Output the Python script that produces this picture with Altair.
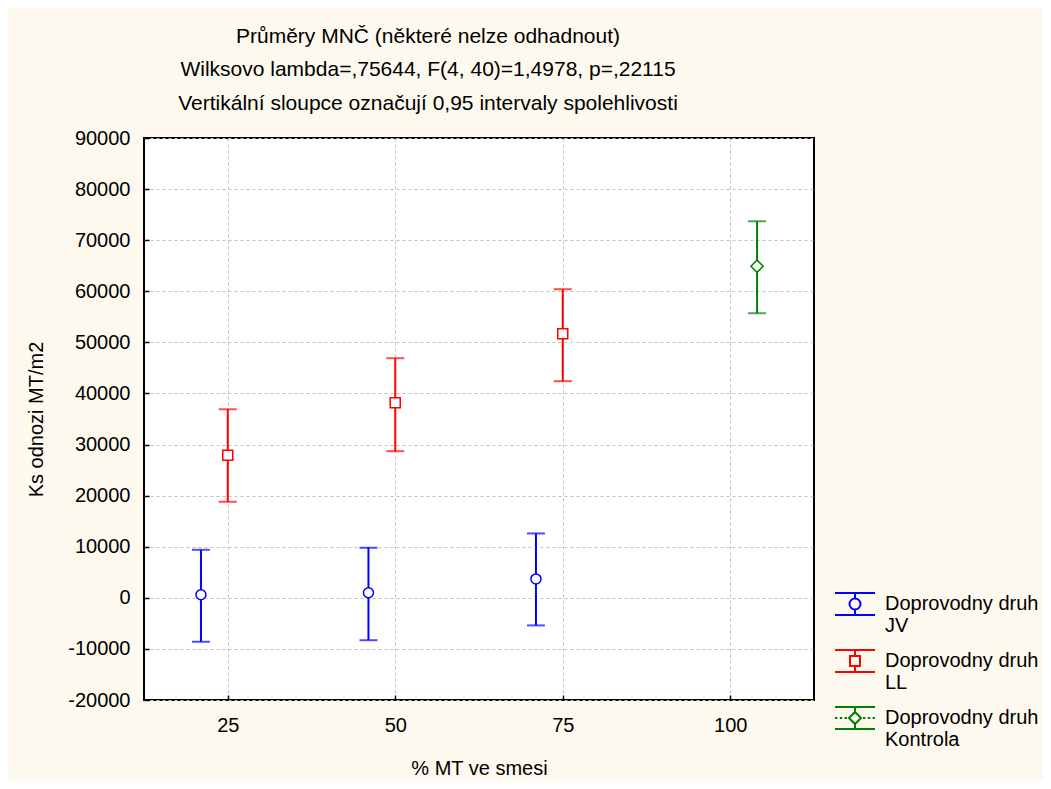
import altair as alt
import pandas as pd

# ---- data ----
series_names = ["Doprovodny druh JV", "Doprovodny druh LL", "Doprovodny druh Kontrola"]

jv_pct = [25, 50, 75]
jv_mean = [600, 1000, 3700]
jv_lo = [-8600, -8300, -5400]
jv_hi = [9400, 9800, 12600]

ll_pct = [25, 50, 75]
ll_mean = [27900, 38200, 51700]
ll_lo = [18800, 28700, 42400]
ll_hi = [36900, 46900, 60400]

k_pct = [100]
k_mean = [64900]
k_lo = [55700]
k_hi = [73700]

x_ticks = [25, 50, 75, 100]
y_ticks = list(range(-20000, 90001, 10000))
title_lines = [
    "Průměry MNČ (některé nelze odhadnout)",
    "Wilksovo lambda=,75644, F(4, 40)=1,4978, p=,22115",
    "Vertikální sloupce označují 0,95 intervaly spolehlivosti",
]
x_title = "% MT ve smesi"
y_title = "Ks odnozi MT/m2"

# ---- styles ----
colors = ["#0000ff", "#ff0000", "#008000"]
marker_shapes = ["circle", "square", "diamond"]
marker_sizes = [100, 100, 150]
FONT = "Liberation Sans"


def glyph(kind, c=0.0):
    cap = 0.55
    top, bot = c - cap, c + cap
    p = f"M-1,{top}H1M-1,{bot}H1"
    if kind == "circle":
        r = 0.275
        p += f"M0,{top}V{c - r}M0,{c + r}V{bot}"
        p += f"M{r},{c}A{r},{r} 0 1 1 {-r},{c}A{r},{r} 0 1 1 {r},{c}Z"
    elif kind == "square":
        r = 0.25
        p += f"M0,{top}V{c - r}M0,{c + r}V{bot}"
        p += f"M{-r},{c - r}H{r}V{c + r}H{-r}Z"
    else:
        r = 0.3
        p += f"M0,{top}V{c - r}M0,{c + r}V{bot}"
        p += f"M0,{c - r}L{r},{c}L0,{c + r}L{-r},{c}Z"
        for a, b in [(-1, -0.88), (-0.76, -0.64), (-0.52, -0.4), (0.4, 0.52), (0.64, 0.76), (0.88, 1)]:
            p += f"M{a},{c}H{b}"
    return p


legend_paths = [glyph(s) for s in marker_shapes]

rows = []
for name, pcts, means, los, his in [
    (series_names[0], jv_pct, jv_mean, jv_lo, jv_hi),
    (series_names[1], ll_pct, ll_mean, ll_lo, ll_hi),
    (series_names[2], k_pct, k_mean, k_lo, k_hi),
]:
    for p, m, lo, hi in zip(pcts, means, los, his):
        rows.append({"series": name, "pct": p, "mean": m, "lo": lo, "hi": hi})
df = pd.DataFrame(rows)

dodge_expr = (
    f"datum.pct + (datum.series == '{series_names[0]}' ? -4 : "
    f"(datum.series == '{series_names[2]}' ? 4 : 0))"
)
color_expr = (
    f"datum.series == '{series_names[0]}' ? '{colors[0]}' : "
    f"(datum.series == '{series_names[1]}' ? '{colors[1]}' : '{colors[2]}')"
)

base = alt.Chart(df).transform_calculate(xpos=dodge_expr, col=color_expr)

x_scale = alt.Scale(domain=[12.5, 112.5], nice=False, zero=False)
y_scale = alt.Scale(domain=[-20000, 90000], nice=False, zero=False)
color_scale = alt.Scale(domain=series_names, range=colors)

x_axis = alt.Axis(
    values=x_ticks, format="d", grid=True, gridColor="#c0c0c0", gridDash=[3, 3], gridWidth=1,
    domain=False, ticks=True, tickSize=5, tickColor="black", tickWidth=1.5, offset=-5,
    labelPadding=15, labelFont=FONT, labelFontSize=20, labelColor="black",
    title=x_title, titleFont=FONT, titleFontSize=20, titleFontWeight="normal", titleColor="black",
    titleX=335, titleY=73, titleBaseline="middle", titleAlign="center",
)
y_axis = alt.Axis(
    values=y_ticks, labelExpr="'' + datum.value", grid=True, gridColor="#c0c0c0",
    gridDash=[3, 3], gridWidth=1, domain=False, ticks=True, tickSize=5, tickColor="black",
    tickWidth=1.5, offset=-5, labelPadding=14, labelFont=FONT, labelFontSize=20,
    labelColor="black", title=y_title, titleFont=FONT, titleFontSize=20,
    titleFontWeight="normal", titleColor="black", titleX=-113, titleY=281, titleAngle=270,
    titleBaseline="middle", titleAlign="center",
)

leg = alt.Legend(
    title=None, orient="none", legendX=690, legendY=445, direction="vertical",
    symbolSize=1600, symbolStrokeWidth=2, symbolOpacity=1, symbolFillColor="transparent",
    labelFont=FONT, labelFontSize=20, labelColor="black", labelLimit=400, labelOffset=9,
    labelExpr="['Doprovodny druh', replace(datum.label, 'Doprovodny druh ', '')]",
    rowPadding=4, padding=0,
)

X = alt.X("xpos:Q", scale=x_scale, axis=x_axis)
col_enc = alt.Color("col:N", scale=None)

# invisible layer that carries the legend
legend_layer = base.mark_point(filled=False, opacity=0, size=100).encode(
    x=X,
    y=alt.Y("mean:Q", scale=y_scale, axis=y_axis),
    color=alt.Color("series:N", scale=color_scale, legend=leg),
    shape=alt.Shape("series:N", scale=alt.Scale(domain=series_names, range=legend_paths), legend=leg),
)

bars = base.mark_rule(strokeWidth=2).encode(
    x=X, y=alt.Y("lo:Q", scale=y_scale), y2="hi:Q", color=col_enc
)
cap_lo = base.mark_tick(orient="horizontal", size=18, thickness=2).encode(
    x=X, y=alt.Y("lo:Q", scale=y_scale), color=col_enc
)
cap_hi = base.mark_tick(orient="horizontal", size=18, thickness=2).encode(
    x=X, y=alt.Y("hi:Q", scale=y_scale), color=col_enc
)

markers = []
for name, shp, sz in zip(series_names, marker_shapes, marker_sizes):
    markers.append(
        base.transform_filter(alt.datum.series == name)
        .mark_point(shape=shp, filled=False, fill="white", fillOpacity=1, opacity=1,
                    strokeWidth=1.5, size=sz)
        .encode(x=X, y=alt.Y("mean:Q", scale=y_scale), color=col_enc)
    )

chart = (
    alt.layer(legend_layer, bars, cap_lo, cap_hi, *markers)
    .properties(
        width=670,
        height=562,
        padding={"left": 136, "top": 130, "right": 229, "bottom": 81},
        autosize=alt.AutoSizeParams(type="none"),
        title=alt.TitleParams(
            text=title_lines, anchor="middle", frame="group", dx=-51, fontSize=21,
            font=FONT, fontWeight="normal", lineHeight=33.5, offset=14.5, color="black",
        ),
    )
    .configure(background="#fdf9ee")
    .configure_view(stroke="black", strokeWidth=2, fill="white")
)

chart.save("out.html", embed_options={"renderer": "svg", "actions": False})
